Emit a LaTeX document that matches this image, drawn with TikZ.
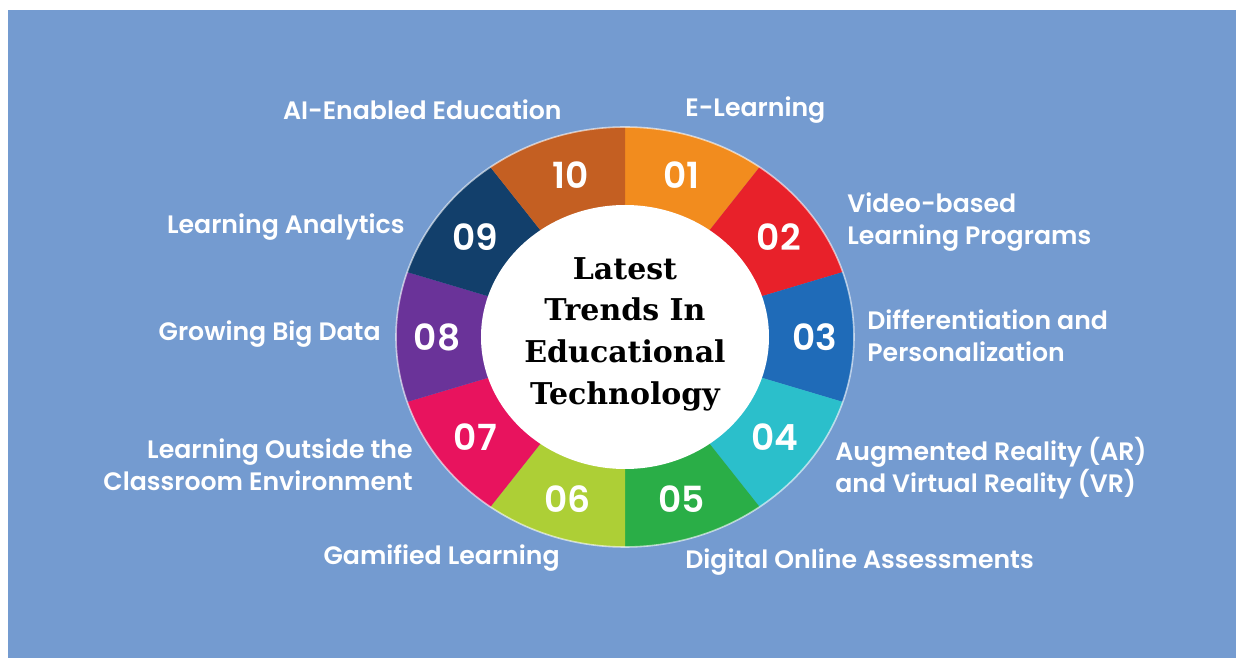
\documentclass[tikz,border=0pt]{standalone}
\usepackage{fontspec}
\setsansfont{Poppins}[BoldFont=* SemiBold]
\newfontfamily\titlefont{DejaVu Serif}

\definecolor{bgblue}{HTML}{749BD0}
\definecolor{c01}{HTML}{F28C1E}
\definecolor{c02}{HTML}{E8212A}
\definecolor{c03}{HTML}{1F6BB8}
\definecolor{c04}{HTML}{2BBFCB}
\definecolor{c05}{HTML}{2AAE47}
\definecolor{c06}{HTML}{ADCF36}
\definecolor{c07}{HTML}{E8135E}
\definecolor{c08}{HTML}{6A3399}
\definecolor{c09}{HTML}{123F6B}
\definecolor{c10}{HTML}{C45F22}

\tikzset{
  trend/.style={text=white, inner sep=0pt, font=\sffamily\bfseries\fontsize{12.6}{16}\selectfont},
  num/.style={text=white, font=\sffamily\bfseries\fontsize{18}{20}\selectfont},
}

\begin{document}
\begin{tikzpicture}[x=0.5pt, y=0.5pt]
    \useasboundingbox (-625,-321) rectangle (611,337);
    \fill[white] (-625,-321) rectangle (611,337);
    \fill[bgblue] (-617,-321) rectangle (611,327);

    % ring of ten segments
    \fill[c01] (0,0) -- (90:229 and 210) arc[start angle=90, end angle=54, x radius=229, y radius=210] -- cycle;
    \fill[c02] (0,0) -- (54:229 and 210) arc[start angle=54, end angle=18, x radius=229, y radius=210] -- cycle;
    \fill[c03] (0,0) -- (18:229 and 210) arc[start angle=18, end angle=-18, x radius=229, y radius=210] -- cycle;
    \fill[c04] (0,0) -- (-18:229 and 210) arc[start angle=-18, end angle=-54, x radius=229, y radius=210] -- cycle;
    \fill[c05] (0,0) -- (-54:229 and 210) arc[start angle=-54, end angle=-90, x radius=229, y radius=210] -- cycle;
    \fill[c06] (0,0) -- (-90:229 and 210) arc[start angle=-90, end angle=-126, x radius=229, y radius=210] -- cycle;
    \fill[c07] (0,0) -- (-126:229 and 210) arc[start angle=-126, end angle=-162, x radius=229, y radius=210] -- cycle;
    \fill[c08] (0,0) -- (-162:229 and 210) arc[start angle=-162, end angle=-198, x radius=229, y radius=210] -- cycle;
    \fill[c09] (0,0) -- (162:229 and 210) arc[start angle=162, end angle=126, x radius=229, y radius=210] -- cycle;
    \fill[c10] (0,0) -- (126:229 and 210) arc[start angle=126, end angle=90, x radius=229, y radius=210] -- cycle;
    \draw[white, opacity=0.6, line width=0.8pt] (0,0) ellipse[x radius=229, y radius=210];
    \fill[white] (0,0) ellipse[x radius=144, y radius=132];

    \node (title) at (0,3) [align=center, font=\titlefont\bfseries\fontsize{15}{20.8}\selectfont]
      {Latest\\Trends In\\Educational\\Technology};

    \node[num] (n01) at (72:182 and 170) {01};
    \node[num] (n02) at (36:190 and 170) {02};
    \node[num] (n03) at (0:190 and 170) {03};
    \node[num] (n04) at (-36:185 and 170) {04};
    \node[num] (n05) at (-72:182 and 170) {05};
    \node[num] (n06) at (-108:185 and 170) {06};
    \node[num] (n07) at (-144:185 and 170) {07};
    \node[num] (n08) at (180:188 and 170) {08};
    \node[num] (n09) at (144:185 and 170) {09};
    \node[num] (n10) at (108:175 and 170) {10};

    \node[trend, anchor=west] (elearn) at (60,227) {E-Learning};
    \node[trend, anchor=west, align=left] (video) at (222,115) {Video-based\\Learning Programs};
    \node[trend, anchor=west, align=left] (diff) at (242,1) {Differentiation and\\Personalization};
    \node[trend, anchor=west, align=left] (arvr) at (210,-131) {Augmented Reality (AR)\\and Virtual Reality (VR)};
    \node[trend, anchor=west] (assess) at (60,-225) {Digital Online Assessments};
    \node[trend, anchor=east] (gamified) at (-65,-221) {Gamified Learning};
    \node[trend, anchor=east, align=right] (outside) at (-212,-128) {Learning Outside the\\Classroom Environment};
    \node[trend, anchor=east] (bigdata) at (-244,3) {Growing Big Data};
    \node[trend, anchor=east] (analytics) at (-220,110) {Learning Analytics};
    \node[trend, anchor=east] (ai) at (-63,227) {AI-Enabled Education};
  \end{tikzpicture}
\end{document}
